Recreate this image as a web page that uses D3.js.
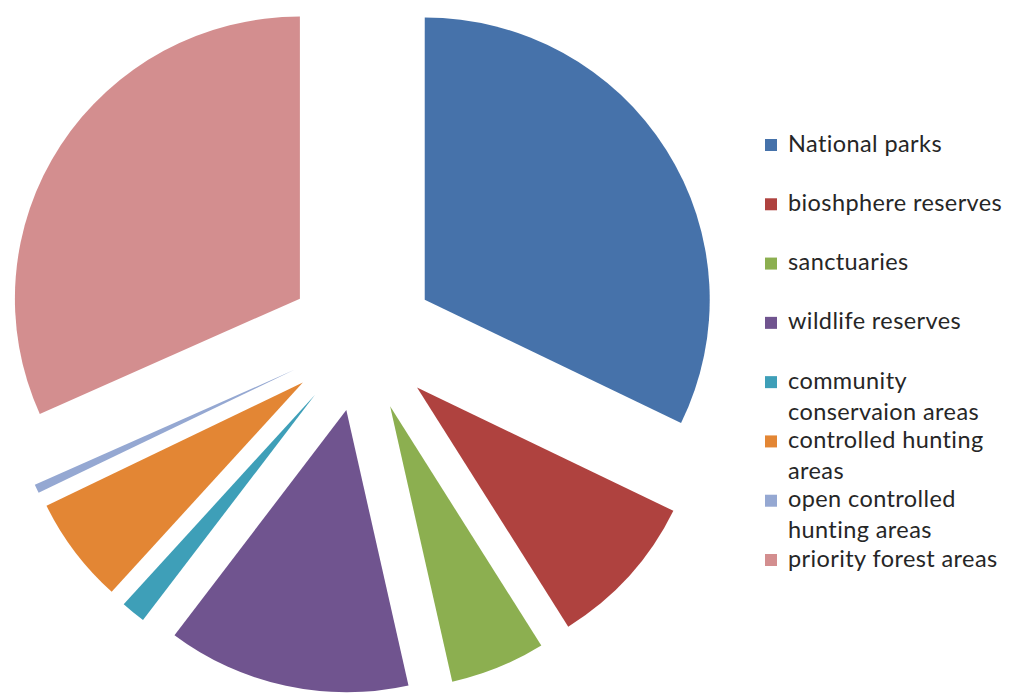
<!DOCTYPE html>
<html>
<head>
<meta charset="utf-8">
<script src="https://cdn.jsdelivr.net/npm/d3@7"></script>
<style>
  html, body { margin: 0; padding: 0; background: #fff; }
  svg { display: block; }
</style>
</head>
<body>
<svg id="chart" width="1020" height="695"></svg>
<script>
// Protected area categories and their shares (percent of total)
const categories = [
  "National parks",
  "bioshphere reserves",
  "sanctuaries",
  "wildlife reserves",
  "community conservaion areas",
  "controlled hunting areas",
  "open controlled hunting areas",
  "priority forest areas"
];
const shares = [32.2, 8.9, 5.4, 13.8, 1.4, 6.1, 0.5, 31.7];

// Legend text, wrapped the way the legend shows it
const legendLines = [
  ["National parks"],
  ["bioshphere reserves"],
  ["sanctuaries"],
  ["wildlife reserves"],
  ["community", "conservaion areas"],
  ["controlled hunting", "areas"],
  ["open controlled", "hunting areas"],
  ["priority forest areas"]
];

const palette = ["#4672AA", "#AF423F", "#8CAF50", "#70548F", "#3E9FB8", "#E38634", "#95A8D2", "#D38E8F"];

const cx = 362, cy = 338.5;
const radius = 285;
const explode = 74;

const svg = d3.select("#chart");

const color = d3.scaleOrdinal().domain(categories).range(palette);

const pie = d3.pie().sort(null).value(d => d.value);
const arc = d3.arc().innerRadius(0).outerRadius(radius);

const data = categories.map((c, i) => ({ name: c, value: shares[i] }));

// pie group, very slightly flattened vertically
const g = svg.append("g").attr("transform", `translate(${cx},${cy}) scale(1,0.99)`);

g.selectAll("path.slice")
  .data(pie(data))
  .join("path")
  .attr("class", "slice")
  .attr("d", arc)
  .attr("fill", d => color(d.data.name))
  .attr("transform", d => {
    const mid = (d.startAngle + d.endAngle) / 2;
    return `translate(${Math.sin(mid) * explode},${-Math.cos(mid) * explode})`;
  });

// Legend
const legendY = d3.scaleLinear().domain([0, categories.length - 1]).range([145, 560]);
const legend = svg.append("g").attr("class", "legend");

const items = legend.selectAll("g.item")
  .data(categories)
  .join("g")
  .attr("class", "item")
  .attr("transform", (d, i) => `translate(765,${legendY(i)})`);

items.append("rect")
  .attr("x", 0).attr("y", -6)
  .attr("width", 12).attr("height", 12)
  .attr("fill", d => color(d));

items.each(function(d, i) {
  const t = d3.select(this).append("text")
    .attr("x", 23)
    .attr("y", 6.5)
    .attr("fill", "#262626")
    .style("font-family", "Lato, 'Open Sans', sans-serif")
    .style("font-size", "23.5px")
    .style("letter-spacing", "0.4px");
  legendLines[i].forEach((line, k) => {
    t.append("tspan").attr("x", 23).attr("dy", k === 0 ? 0 : 31).text(line);
  });
});
</script>
</body>
</html>
